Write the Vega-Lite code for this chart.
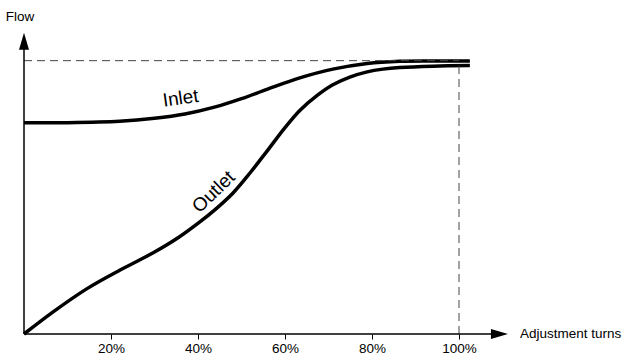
{
  "$schema": "https://vega.github.io/schema/vega-lite/v6.json",
  "width": 522,
  "height": 328,
  "autosize": {"type": "none"},
  "padding": {"left": 24, "top": 6, "right": 80, "bottom": 24},
  "background": "white",
  "config": {"view": {"stroke": null}, "font": "Liberation Sans"},
  "datasets": {
    "curves": [
      {"turns": 0, "flow": 0.773, "series": "Inlet"},
      {"turns": 10, "flow": 0.773, "series": "Inlet"},
      {"turns": 22.0, "flow": 0.778, "series": "Inlet"},
      {"turns": 30.0, "flow": 0.789, "series": "Inlet"},
      {"turns": 37.0, "flow": 0.805, "series": "Inlet"},
      {"turns": 44.0, "flow": 0.831, "series": "Inlet"},
      {"turns": 50.0, "flow": 0.861, "series": "Inlet"},
      {"turns": 56.0, "flow": 0.896, "series": "Inlet"},
      {"turns": 63.4, "flow": 0.937, "series": "Inlet"},
      {"turns": 71.0, "flow": 0.969, "series": "Inlet"},
      {"turns": 78.9, "flow": 0.990, "series": "Inlet"},
      {"turns": 86.4, "flow": 0.998, "series": "Inlet"},
      {"turns": 95.0, "flow": 0.999, "series": "Inlet"},
      {"turns": 102.5, "flow": 0.999, "series": "Inlet"},
      {"turns": 0, "flow": 0, "series": "Outlet"},
      {"turns": 6.7, "flow": 0.081, "series": "Outlet"},
      {"turns": 14.5, "flow": 0.166, "series": "Outlet"},
      {"turns": 22.1, "flow": 0.234, "series": "Outlet"},
      {"turns": 29.7, "flow": 0.297, "series": "Outlet"},
      {"turns": 35.5, "flow": 0.353, "series": "Outlet"},
      {"turns": 40.5, "flow": 0.411, "series": "Outlet"},
      {"turns": 44.0, "flow": 0.456, "series": "Outlet"},
      {"turns": 48.0, "flow": 0.515, "series": "Outlet"},
      {"turns": 52.0, "flow": 0.590, "series": "Outlet"},
      {"turns": 56.0, "flow": 0.672, "series": "Outlet"},
      {"turns": 60.0, "flow": 0.755, "series": "Outlet"},
      {"turns": 63.4, "flow": 0.818, "series": "Outlet"},
      {"turns": 67.4, "flow": 0.873, "series": "Outlet"},
      {"turns": 71.0, "flow": 0.912, "series": "Outlet"},
      {"turns": 74.9, "flow": 0.940, "series": "Outlet"},
      {"turns": 78.9, "flow": 0.959, "series": "Outlet"},
      {"turns": 82.5, "flow": 0.969, "series": "Outlet"},
      {"turns": 86.4, "flow": 0.975, "series": "Outlet"},
      {"turns": 94.0, "flow": 0.980, "series": "Outlet"},
      {"turns": 102.5, "flow": 0.982, "series": "Outlet"}
    ],
    "dashes": [
      {"x": 0, "y": 1, "x2": 100, "y2": 1},
      {"x": 100, "y": 0, "x2": 100, "y2": 1}
    ],
    "axes": [
      {"x": 0, "y": 0, "x2": 108, "y2": 0},
      {"x": 0, "y": 0, "x2": 0, "y2": 1.06}
    ]
  },
  "layer": [
    {
      "data": {"name": "curves"},
      "mark": {"type": "line", "color": "black", "strokeWidth": 3.5, "interpolate": "catmull-rom", "strokeCap": "butt"},
      "encoding": {
        "x": {
          "field": "turns", "type": "quantitative",
          "scale": {"domain": [0, 120], "nice": false, "zero": false},
          "axis": {
            "values": [20, 40, 60, 80, 100],
            "labelExpr": "datum.value + '%'",
            "domain": false, "grid": false, "title": null,
            "tickColor": "black", "tickSize": 5, "tickWidth": 1,
            "labelFontSize": 13.5, "labelColor": "black", "labelPadding": 2,
            "labelFont": "Liberation Sans"
          }
        },
        "y": {
          "field": "flow", "type": "quantitative",
          "scale": {"domain": [0, 1.2], "nice": false},
          "axis": null
        },
        "detail": {"field": "series"}
      }
    },
    {
      "data": {"name": "dashes"},
      "mark": {"type": "rule", "color": "#444", "strokeWidth": 1, "strokeDash": [8, 5]},
      "encoding": {
        "x": {"field": "x", "type": "quantitative"},
        "y": {"field": "y", "type": "quantitative"},
        "x2": {"field": "x2"},
        "y2": {"field": "y2"}
      }
    },
    {
      "data": {"name": "axes"},
      "mark": {"type": "rule", "color": "black", "strokeWidth": 1.5},
      "encoding": {
        "x": {"field": "x", "type": "quantitative"},
        "y": {"field": "y", "type": "quantitative"},
        "x2": {"field": "x2"},
        "y2": {"field": "y2"}
      }
    },
    {
      "data": {"values": [{"x": 0, "y": 1.071}]},
      "mark": {"type": "point", "shape": "M -0.5 0.85 L 0 -0.85 L 0.5 0.85 Z", "filled": true, "color": "black", "opacity": 1, "size": 400, "angle": 0},
      "encoding": {
        "x": {"field": "x", "type": "quantitative"},
        "y": {"field": "y", "type": "quantitative"}
      }
    },
    {
      "data": {"values": [{"x": 109.3, "y": 0}]},
      "mark": {"type": "point", "shape": "M -0.5 0.85 L 0 -0.85 L 0.5 0.85 Z", "filled": true, "color": "black", "opacity": 1, "size": 400, "angle": 90},
      "encoding": {
        "x": {"field": "x", "type": "quantitative"},
        "y": {"field": "y", "type": "quantitative"}
      }
    },
    {
      "data": {"values": [{"x": -0.9, "y": 1.161, "label": "Flow"}]},
      "mark": {"type": "text", "fontSize": 13.5, "align": "center", "baseline": "middle", "color": "black"},
      "encoding": {
        "x": {"field": "x", "type": "quantitative"},
        "y": {"field": "y", "type": "quantitative"},
        "text": {"field": "label"}
      }
    },
    {
      "data": {"values": [{"x": 114, "y": 0, "label": "Adjustment turns"}]},
      "mark": {"type": "text", "fontSize": 13.5, "align": "left", "baseline": "middle", "color": "black"},
      "encoding": {
        "x": {"field": "x", "type": "quantitative"},
        "y": {"field": "y", "type": "quantitative"},
        "text": {"field": "label"}
      }
    },
    {
      "data": {"values": [{"x": 36.0, "y": 0.862, "label": "Inlet"}]},
      "mark": {"type": "text", "fontSize": 19, "align": "center", "baseline": "middle", "angle": -8, "color": "black"},
      "encoding": {
        "x": {"field": "x", "type": "quantitative"},
        "y": {"field": "y", "type": "quantitative"},
        "text": {"field": "label"}
      }
    },
    {
      "data": {"values": [{"x": 43.6, "y": 0.52, "label": "Outlet"}]},
      "mark": {"type": "text", "fontSize": 19, "align": "center", "baseline": "middle", "angle": -44, "color": "black"},
      "encoding": {
        "x": {"field": "x", "type": "quantitative"},
        "y": {"field": "y", "type": "quantitative"},
        "text": {"field": "label"}
      }
    }
  ]
}
